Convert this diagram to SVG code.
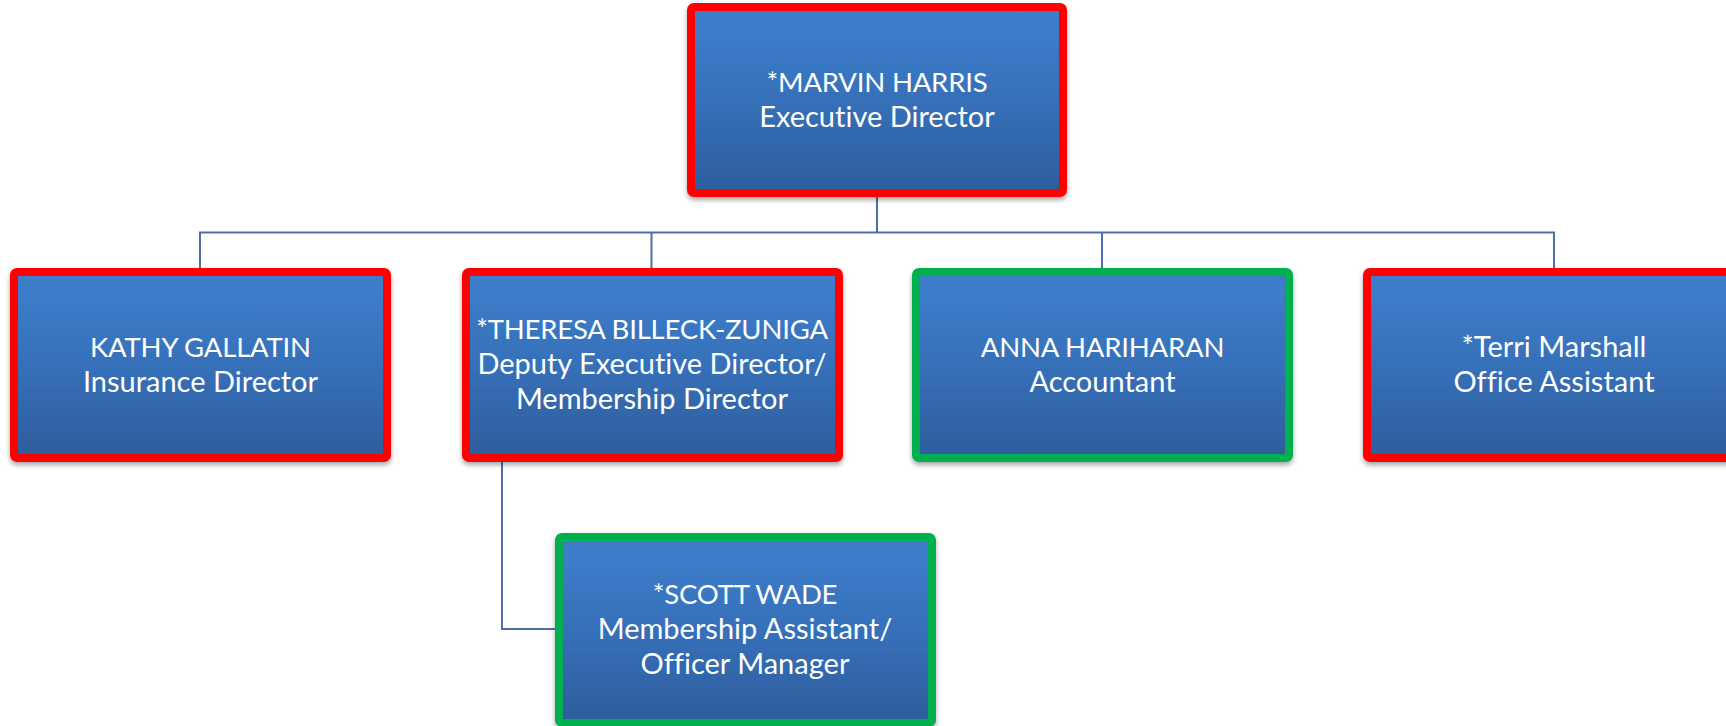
<svg xmlns="http://www.w3.org/2000/svg" width="1726" height="726" viewBox="0 0 1726 726">
  <defs>
    <linearGradient id="boxGrad" x1="0" y1="0" x2="0" y2="1">
      <stop offset="0" stop-color="#3D7DCA"/>
      <stop offset="0.15" stop-color="#3C7BC7"/>
      <stop offset="0.5" stop-color="#3670B9"/>
      <stop offset="1" stop-color="#2E5D9C"/>
    </linearGradient>
    <filter id="shadow" x="-5%" y="-5%" width="110%" height="115%">
      <feDropShadow dx="0" dy="3" stdDeviation="2.5" flood-color="#000" flood-opacity="0.35"/>
    </filter>
  </defs>
  <style>
    .box { fill: url(#boxGrad); stroke-width: 8; filter: url(#shadow); }
    .red { stroke: #FF0000; }
    .green { stroke: #00B050; }
    .lbl { font-family: Lato, "Liberation Sans", Arial, sans-serif; font-size: 29px; fill: #FFFFFF; text-anchor: middle; font-variant-ligatures: none; }
    .caps { font-size: 27.5px; letter-spacing: -0.2px; }
    .conn { fill: none; stroke: #4A70A6; stroke-width: 2; }
  </style>
  <rect width="1726" height="726" fill="#FFFFFF"/>

  <g id="connectors">
    <path class="conn" d="M877 197 V232.5 M200 268 V232.5 H1554 V268 M651.5 232.5 V268 M1102 232.5 V268"/>
    <path class="conn" d="M502 462 V629 H559"/>
  </g>

  <g id="node-marvin">
    <rect class="box red" x="691" y="7" width="372" height="186" rx="3"/>
    <text class="lbl caps" x="877" y="91.5">*MARVIN HARRIS</text>
    <text class="lbl" x="877" y="126.5">Executive Director</text>
  </g>

  <g id="node-kathy">
    <rect class="box red" x="14" y="272" width="373" height="186" rx="3"/>
    <text class="lbl caps" x="200.5" y="356.5">KATHY GALLATIN</text>
    <text class="lbl" x="200.5" y="391.5">Insurance Director</text>
  </g>

  <g id="node-theresa">
    <rect class="box red" x="466" y="272" width="373" height="186" rx="3"/>
    <text class="lbl caps" x="652" y="338.5">*THERESA BILLECK-ZUNIGA</text>
    <text class="lbl" x="652" y="373.5">Deputy Executive Director/</text>
    <text class="lbl" x="652" y="408.5">Membership Director</text>
  </g>

  <g id="node-anna">
    <rect class="box green" x="916" y="272" width="373" height="186" rx="3"/>
    <text class="lbl caps" x="1102.5" y="356.5">ANNA HARIHARAN</text>
    <text class="lbl" x="1102.5" y="391.5">Accountant</text>
  </g>

  <g id="node-terri">
    <rect class="box red" x="1367" y="272" width="373" height="186" rx="3"/>
    <text class="lbl" x="1554" y="356.5">*Terri Marshall</text>
    <text class="lbl" x="1554" y="391.5">Office Assistant</text>
  </g>

  <g id="node-scott">
    <rect class="box green" x="559" y="537" width="373" height="186" rx="3"/>
    <text class="lbl caps" x="745" y="603.5">*SCOTT WADE</text>
    <text class="lbl" x="745" y="639">Membership Assistant/</text>
    <text class="lbl" x="745" y="673.5">Officer Manager</text>
  </g>
</svg>
